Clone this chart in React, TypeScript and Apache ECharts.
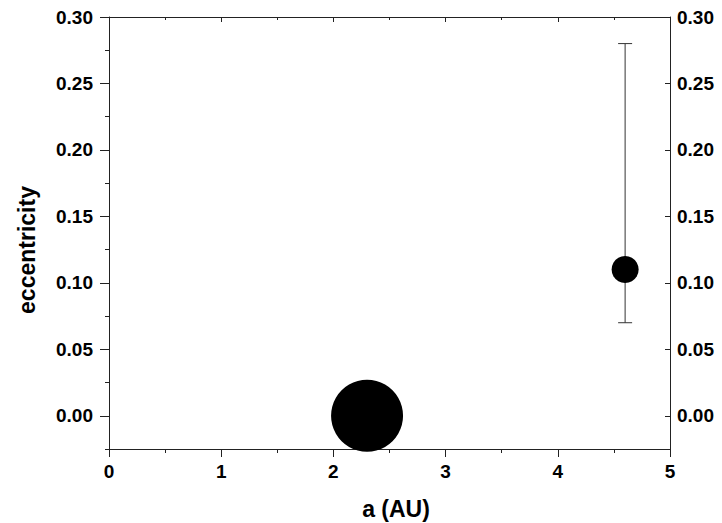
import React, { useEffect, useRef } from "react";
import * as echarts from "echarts";

const semiMajorAxis = [2.3, 4.6];
const eccentricity = [0.0, 0.11];
const errLow = [null, 0.07];
const errHigh = [null, 0.28];
const bubbleSize = [72, 27];

const xTitle = "a (AU)";
const yTitle = "eccentricity";
const yMajorTicks = [0, 0.05, 0.1, 0.15, 0.2, 0.25, 0.3];
const yMinorTicks = [-0.025, 0.025, 0.075, 0.125, 0.175, 0.225, 0.275];

const FONT = "Liberation Sans, Arial, sans-serif";
const LINE = "#222";

export default function App() {
  const ref = useRef<HTMLDivElement>(null);
  useEffect(() => {
    if (!ref.current) return;
    const chart = echarts.init(ref.current, null, { renderer: "svg" });
    const points = semiMajorAxis.map((x, i) => [x, eccentricity[i], bubbleSize[i]]);
    const bars = semiMajorAxis
      .map((x, i) => [x, errLow[i], errHigh[i]])
      .filter((d) => d[1] !== null && d[2] !== null);
    const labelStyle = { fontFamily: FONT, fontWeight: "bold", fontSize: 19, color: "#000" };
    const titleStyle = { fontFamily: FONT, fontWeight: "bold", fontSize: 23, fill: "#000" };
    const yFmt = (v: number) => v.toFixed(2);
    chart.setOption({
      animation: false,
      backgroundColor: "#fff",
      grid: { left: 109, right: 52, top: 17, bottom: 74 },
      graphic: [
        {
          type: "text",
          x: 396,
          y: 509,
          style: { ...titleStyle, text: xTitle, align: "center", verticalAlign: "middle" },
        },
        {
          type: "text",
          x: 27,
          y: 250,
          rotation: Math.PI / 2,
          style: { ...titleStyle, text: yTitle, align: "center", verticalAlign: "middle" },
        },
      ],
      xAxis: [
        {
          type: "value",
          position: "bottom",
          min: 0,
          max: 5,
          interval: 1,
          axisLine: { show: true, onZero: false, lineStyle: { color: LINE, width: 1 } },
          axisTick: { show: true, length: 8, lineStyle: { color: LINE } },
          minorTick: { show: true, splitNumber: 2, length: 4, lineStyle: { color: LINE } },
          axisLabel: { ...labelStyle, margin: 13 },
          splitLine: { show: false },
          minorSplitLine: { show: false },
        },
        {
          type: "value",
          position: "top",
          min: 0,
          max: 5,
          interval: 1,
          axisLine: { show: true, onZero: false, lineStyle: { color: LINE, width: 1 } },
          axisTick: { show: true, inside: true, length: 5, lineStyle: { color: LINE } },
          minorTick: { show: true, splitNumber: 2, length: 3, lineStyle: { color: LINE } },
          axisLabel: { show: false },
          splitLine: { show: false },
        },
      ],
      yAxis: [
        {
          type: "value",
          position: "left",
          min: -0.025,
          max: 0.3,
          axisLine: { show: true, onZero: false, lineStyle: { color: LINE, width: 1 } },
          axisTick: { show: true, length: 9, customValues: yMajorTicks, lineStyle: { color: LINE } },
          axisLabel: { ...labelStyle, margin: 16, customValues: yMajorTicks, formatter: yFmt },
          splitLine: { show: false },
        },
        {
          type: "value",
          position: "left",
          min: -0.025,
          max: 0.3,
          axisLine: { show: false },
          axisTick: { show: true, length: 4, customValues: yMinorTicks, lineStyle: { color: LINE } },
          axisLabel: { show: false },
          splitLine: { show: false },
        },
        {
          type: "value",
          position: "right",
          min: -0.025,
          max: 0.3,
          axisLine: { show: true, onZero: false, lineStyle: { color: LINE, width: 1 } },
          axisTick: { show: true, inside: true, length: 5, customValues: yMajorTicks, lineStyle: { color: LINE } },
          axisLabel: { ...labelStyle, margin: 7, customValues: yMajorTicks, formatter: yFmt },
          splitLine: { show: false },
        },
        {
          type: "value",
          position: "right",
          min: -0.025,
          max: 0.3,
          axisLine: { show: false },
          axisTick: { show: true, inside: true, length: 3, customValues: yMinorTicks, lineStyle: { color: LINE } },
          axisLabel: { show: false },
          splitLine: { show: false },
        },
      ],
      series: [
        {
          type: "custom",
          xAxisIndex: 0,
          yAxisIndex: 0,
          data: bars,
          z: 1,
          renderItem: (params: any, api: any) => {
            const x = api.value(0);
            const lo = api.coord([x, api.value(1)]);
            const hi = api.coord([x, api.value(2)]);
            const cap = 7;
            const style = { stroke: "#333", lineWidth: 1 };
            return {
              type: "group",
              children: [
                { type: "line", shape: { x1: lo[0], y1: lo[1], x2: hi[0], y2: hi[1] }, style },
                { type: "line", shape: { x1: lo[0] - cap, y1: lo[1], x2: lo[0] + cap, y2: lo[1] }, style },
                { type: "line", shape: { x1: hi[0] - cap, y1: hi[1], x2: hi[0] + cap, y2: hi[1] }, style },
              ],
            };
          },
        },
        {
          type: "scatter",
          xAxisIndex: 0,
          yAxisIndex: 0,
          data: points,
          z: 2,
          clip: false,
          symbol: "circle",
          symbolSize: (v: number[]) => v[2],
          itemStyle: { color: "#000", opacity: 1 },
        },
      ],
    });
    return () => chart.dispose();
  }, []);
  return <div ref={ref} style={{ width: 722, height: 523, position: "absolute", left: 0, top: 0 }} />;
}
